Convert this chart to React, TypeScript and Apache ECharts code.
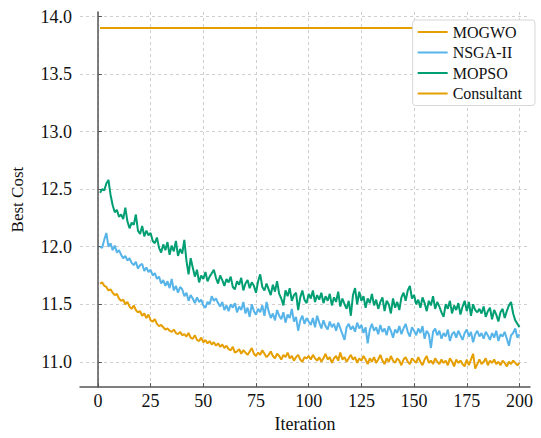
import React, { useEffect, useRef } from "react";
import * as echarts from "echarts";

const ITERATIONS: number[] = Array.from({ length: 200 }, (_, i) => i + 1);

const MOGWO: number[] = [
  11.68, 11.69, 11.66, 11.65, 11.62, 11.63, 11.60, 11.58, 11.59, 11.55, 11.53, 11.54, 11.50, 11.52, 11.48, 11.46, 11.49, 11.45, 11.43, 11.44,
  11.40, 11.42, 11.38, 11.41, 11.36, 11.35, 11.37, 11.33, 11.31, 11.32, 11.30, 11.28, 11.29, 11.27, 11.26, 11.28, 11.25, 11.24, 11.26, 11.23,
  11.24, 11.22, 11.25, 11.21, 11.20, 11.23, 11.19, 11.18, 11.21, 11.17, 11.19, 11.16, 11.18, 11.15, 11.17, 11.14, 11.16, 11.13, 11.15, 11.12,
  11.14, 11.11, 11.10, 11.13, 11.08, 11.09, 11.11, 11.07, 11.10, 11.08, 11.06, 11.09, 11.12, 11.07, 11.05, 11.08, 11.06, 11.10, 11.07, 11.04,
  11.06, 11.09, 11.05, 11.03, 11.07, 11.05, 11.02, 11.06, 11.04, 11.08, 11.03, 11.05, 11.01, 11.04, 11.06, 11.02, 11.00, 11.04, 11.03, 11.05,
  11.02, 11.06, 11.03, 11.01, 11.04, 11.00, 11.03, 11.07, 11.02, 11.04, 10.99, 11.03, 11.05, 11.01, 11.08, 11.02, 11.04, 11.00, 11.03, 11.06,
  11.02, 11.04, 10.99, 11.03, 11.01, 11.05, 11.02, 10.98, 11.03, 11.00, 11.04, 10.99, 11.02, 11.06, 11.01, 10.98, 11.03, 11.00, 11.05, 11.01,
  10.99, 11.03, 11.01, 10.97, 11.02, 11.04, 11.00, 10.98, 11.03, 11.01, 10.99, 11.04, 11.00, 10.97, 11.02, 11.05, 10.99, 11.01, 10.98, 11.03,
  11.00, 10.98, 11.02, 10.99, 11.01, 10.97, 11.03, 11.00, 10.96, 11.02, 10.99, 11.01, 10.98, 10.96, 11.02, 10.97, 11.02, 11.07, 10.94, 10.98,
  11.02, 10.98, 11.00, 11.03, 10.97, 11.01, 10.99, 11.02, 10.98, 11.00, 10.97, 11.01, 10.99, 10.96, 11.00, 10.98, 11.01, 10.99, 10.97, 10.99,
];

const NSGA2: number[] = [
  12.00, 11.99, 12.06, 12.12, 12.00, 12.03, 11.97, 12.01, 11.95, 11.97, 11.93, 11.90, 11.92, 11.88, 11.90, 11.86, 11.84, 11.87, 11.81, 11.84,
  11.85, 11.79, 11.82, 11.78, 11.80, 11.75, 11.77, 11.72, 11.74, 11.68, 11.71, 11.66, 11.70, 11.64, 11.72, 11.62, 11.66, 11.60, 11.65, 11.63,
  11.57, 11.60, 11.53, 11.58, 11.55, 11.51, 11.56, 11.52, 11.54, 11.49, 11.47, 11.52, 11.50, 11.57, 11.53, 11.55, 11.51, 11.48, 11.52, 11.45,
  11.49, 11.44, 11.50, 11.47, 11.51, 11.43, 11.48, 11.45, 11.52, 11.42, 11.47, 11.39, 11.50, 11.44, 11.41, 11.46, 11.43, 11.49, 11.40, 11.52,
  11.44, 11.38, 11.42, 11.36, 11.45, 11.40, 11.37, 11.43, 11.34, 11.41, 11.38, 11.46, 11.35, 11.39, 11.27, 11.36, 11.40, 11.33, 11.38, 11.35,
  11.32, 11.38, 11.30, 11.40, 11.34, 11.29, 11.36, 11.31, 11.28, 11.35, 11.30, 11.33, 11.27, 11.34, 11.29, 11.24, 11.19, 11.30, 11.33, 11.28,
  11.31, 11.26, 11.34, 11.29, 11.32, 11.25, 11.30, 11.16, 11.28, 11.33, 11.27, 11.30, 11.24, 11.32, 11.26, 11.29, 11.23, 11.31, 11.27, 11.21,
  11.28, 11.25, 11.31, 11.24, 11.29, 11.33, 11.26, 11.22, 11.30, 11.27, 11.23, 11.29, 11.25, 11.31, 11.20, 11.27, 11.24, 11.12, 11.26, 11.29,
  11.23, 11.27, 11.20, 11.25, 11.22, 11.28, 11.18, 11.24, 11.26, 11.21, 11.27, 11.23, 11.19, 11.25, 11.28, 11.22, 11.26, 11.17, 11.24, 11.27,
  11.22, 11.25, 11.20, 11.26, 11.23, 11.19, 11.25, 11.21, 11.27, 11.18, 11.24, 11.22, 11.26, 11.20, 11.14, 11.23, 11.25, 11.29, 11.21, 11.24,
];

const MOPSO: number[] = [
  12.47, 12.50, 12.49, 12.55, 12.58, 12.45, 12.36, 12.30, 12.32, 12.26, 12.28, 12.24, 12.34, 12.22, 12.16, 12.21, 12.19, 12.28, 12.14, 12.11,
  12.18, 12.09, 12.14, 12.10, 12.12, 12.05, 12.03, 12.08, 11.99, 11.95, 12.02, 11.97, 12.04, 11.93, 12.01, 11.96, 12.05, 11.92, 11.98, 11.94,
  12.06, 11.88, 11.76, 11.90, 11.82, 11.74, 11.80, 11.69, 11.75, 11.72, 11.78, 11.70, 11.74, 11.77, 11.80, 11.73, 11.68, 11.75, 11.71, 11.66,
  11.72, 11.69, 11.74, 11.65, 11.63, 11.70, 11.67, 11.73, 11.62, 11.68, 11.71, 11.64, 11.69, 11.66, 11.60, 11.70, 11.76, 11.65, 11.62, 11.68,
  11.63, 11.58, 11.67, 11.61, 11.70, 11.59, 11.55, 11.49, 11.62, 11.57, 11.64, 11.53, 11.58, 11.60, 11.45, 11.56, 11.62, 11.54, 11.51, 11.59,
  11.55, 11.62, 11.52, 11.58, 11.54, 11.60, 11.51, 11.57, 11.53, 11.59, 11.49, 11.56, 11.52, 11.61, 11.48, 11.55, 11.50, 11.46, 11.53, 11.40,
  11.58, 11.64, 11.50, 11.61, 11.53, 11.57, 11.47, 11.55, 11.51, 11.59, 11.49, 11.54, 11.46, 11.52, 11.56, 11.44, 11.53, 11.50, 11.42, 11.55,
  11.47, 11.52, 11.45, 11.56, 11.60, 11.53, 11.62, 11.66, 11.55, 11.58, 11.50, 11.54, 11.47, 11.56, 11.51, 11.44, 11.53, 11.49, 11.57, 11.46,
  11.52, 11.48, 11.43, 11.39, 11.50, 11.46, 11.53, 11.42, 11.49, 11.45, 11.51, 11.41, 11.48, 11.53, 11.44, 11.52, 11.40, 11.50, 11.45, 11.43,
  11.46, 11.42, 11.48, 11.39, 11.44, 11.47, 11.37, 11.45, 11.41, 11.35, 11.43, 11.46, 11.38, 11.44, 11.49, 11.52, 11.42, 11.36, 11.33, 11.30,
];

const CONSULTANT_ITER: number[] = [1, 200];
const CONSULTANT: number[] = [13.9, 13.9];

const X_TICKS: number[] = [0, 25, 50, 75, 100, 125, 150, 175, 200];
const Y_TICKS: number[] = [11.0, 11.5, 12.0, 12.5, 13.0, 13.5, 14.0];

const SERIES_NAMES = ["MOGWO", "NSGA-II", "MOPSO", "Consultant"];
const COLORS = ["#E69F00", "#56B4E9", "#009E73", "#E69F00"];

const FONT = "Liberation Serif";

export default function App() {
  const ref = useRef<HTMLDivElement>(null);

  useEffect(() => {
    if (!ref.current) return;
    const chart = echarts.init(ref.current, undefined, { renderer: "svg" });
    const pair = (xs: number[], ys: number[]) => xs.map((x, i) => [x, ys[i]]);
    const mk = (name: string, color: string, data: number[][]) => ({
      name,
      type: "line",
      data,
      symbol: "none",
      showSymbol: false,
      lineStyle: { color, width: 2 },
      itemStyle: { color },
      emphasis: { disabled: true },
    });
    chart.setOption({
      animation: false,
      textStyle: { fontFamily: FONT },
      grid: { left: 80, right: 11, top: 12, bottom: 45, containLabel: false },
      legend: {
        data: SERIES_NAMES,
        orient: "vertical",
        right: 6,
        top: 20,
        itemWidth: 30,
        itemHeight: 14,
        itemGap: 4.5,
        itemStyle: { opacity: 0 },
        lineStyle: { width: 2 },
        padding: [4, 13, 4, 4],
        backgroundColor: "#ffffff",
        borderColor: "#d6d6d6",
        borderWidth: 1,
        borderRadius: 3,
        textStyle: { fontFamily: FONT, fontSize: 16, color: "#111" },
      },
      xAxis: {
        type: "value",
        min: -8.5,
        max: 205,
        name: "Iteration",
        nameLocation: "middle",
        nameGap: 27,
        nameTextStyle: { fontFamily: FONT, fontSize: 18, color: "#111" },
        axisLine: { show: true, lineStyle: { color: "#555", width: 1.5 } },
        axisTick: { show: true, inside: true, length: 4, customValues: X_TICKS, lineStyle: { color: "#555" } },
        axisLabel: { customValues: X_TICKS, fontFamily: FONT, fontSize: 18, color: "#111", margin: 5 },
        splitLine: { show: true, lineStyle: { color: "#cfcfcf", type: [3, 3], width: 1 } },
      },
      yAxis: {
        type: "value",
        min: 10.78,
        max: 14.04,
        name: "Best Cost",
        nameLocation: "middle",
        nameGap: 54,
        nameTextStyle: { fontFamily: FONT, fontSize: 17, color: "#111" },
        axisLine: { show: true, lineStyle: { color: "#555", width: 1.5 } },
        axisTick: { show: true, inside: true, length: 4, customValues: Y_TICKS, lineStyle: { color: "#555" } },
        axisLabel: {
          customValues: Y_TICKS,
          fontFamily: FONT,
          fontSize: 18,
          color: "#111",
          margin: 8,
          formatter: (v: number) => v.toFixed(1),
        },
        splitLine: { show: true, lineStyle: { color: "#cfcfcf", type: [3, 3], width: 1 } },
      },
      series: [
        mk(SERIES_NAMES[0], COLORS[0], pair(ITERATIONS, MOGWO)),
        mk(SERIES_NAMES[1], COLORS[1], pair(ITERATIONS, NSGA2)),
        mk(SERIES_NAMES[2], COLORS[2], pair(ITERATIONS, MOPSO)),
        mk(SERIES_NAMES[3], COLORS[3], pair(CONSULTANT_ITER, CONSULTANT)),
      ],
    });
    return () => chart.dispose();
  }, []);

  return (
    <div
      ref={ref}
      style={{ position: "fixed", left: 0, top: 0, width: 541, height: 438, background: "#fff" }}
    />
  );
}
